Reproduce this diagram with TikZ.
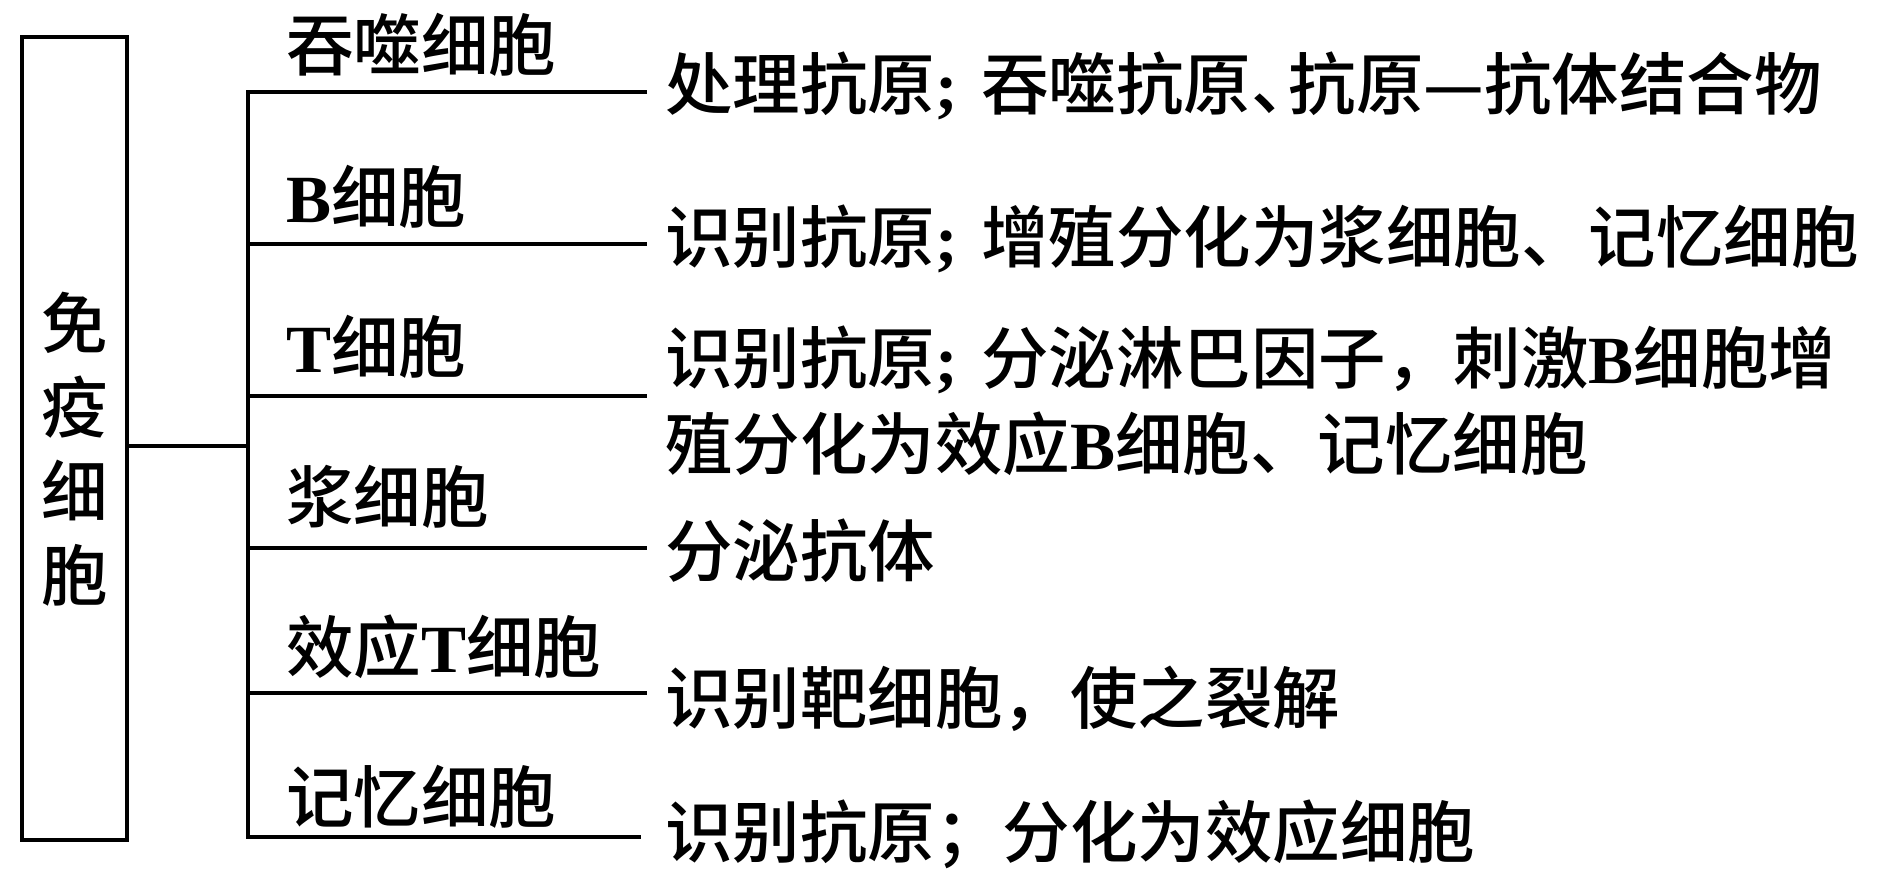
\documentclass[tikz,border=0pt]{standalone}
\usepackage{fontspec}
\setmainfont{Liberation Serif}
\newfontfamily\cjk{Noto Sans CJK SC Medium}
\newfontfamily\latn{Liberation Serif}
\newcommand\LB[1]{{\latn\bfseries #1}}
\newcommand\semi{\LB{;}\hspace{0.35em}}
\begin{document}
\begin{tikzpicture}[x=1bp,y=-1bp,
  ln/.style={line width=3.5bp},
  txt/.style={font=\cjk\fontsize{67.5bp}{86bp}\selectfont, inner sep=0pt, anchor=west},
  boxtxt/.style={font=\cjk\fontsize{66.5bp}{84bp}\selectfont, inner sep=0pt, align=center},
]
\useasboundingbox (0,0) rectangle (1890,882);
\node[draw, line width=3.5bp, minimum width=105bp, minimum height=803bp, inner sep=0pt] (box) at (74.5,438.5) {};
\node[boxtxt] (boxtext) at (74.5,449) {免\\疫\\细\\胞};

\coordinate (j) at (248,446);
\coordinate (t1) at (248,92);  \coordinate (e1) at (647,92);
\coordinate (t2) at (248,244); \coordinate (e2) at (647,244);
\coordinate (t3) at (248,396); \coordinate (e3) at (647,396);
\coordinate (t4) at (248,548); \coordinate (e4) at (647,548);
\coordinate (t5) at (248,693); \coordinate (e5) at (647,693);
\coordinate (t6) at (248,837); \coordinate (e6) at (641,837);

\draw[ln] (box.east |- j) -- (j);
\draw[ln] (e1) -- (t1) -- (t6) -- (e6);
\foreach \i in {2,3,4,5} { \draw[ln] (t\i) -- (e\i); }

\node[txt] (l1) at (286,45) {吞噬细胞};
\node[txt] (l2) at (286,197) {\LB{B}细胞};
\node[txt] (l3) at (286,347) {\LB{T}细胞};
\node[txt] (l4) at (286,497) {浆细胞};
\node[txt] (l5) at (286,647) {效应\LB{T}细胞};
\node[txt] (l6) at (286,797) {记忆细胞};

\node[txt] (r1) at (665,86) {处理抗原\semi 吞噬抗原\makebox[0.55em][l]{、}抗原—抗体结合物};
\node[txt] (r2) at (665,239) {识别抗原\semi 增殖分化为浆细胞、记忆细胞};
\node[txt, align=left] (r3) at (665,401) {识别抗原\semi 分泌淋巴因子，刺激\LB{B}细胞增\\殖分化为效应\LB{B}细胞、记忆细胞};
\node[txt] (r4) at (665,551) {分泌抗体};
\node[txt] (r5) at (665,699) {识别靶细胞，使之裂解};
\node[txt] (r6) at (665,834) {识别抗原；分化为效应细胞};
\end{tikzpicture}
\end{document}
